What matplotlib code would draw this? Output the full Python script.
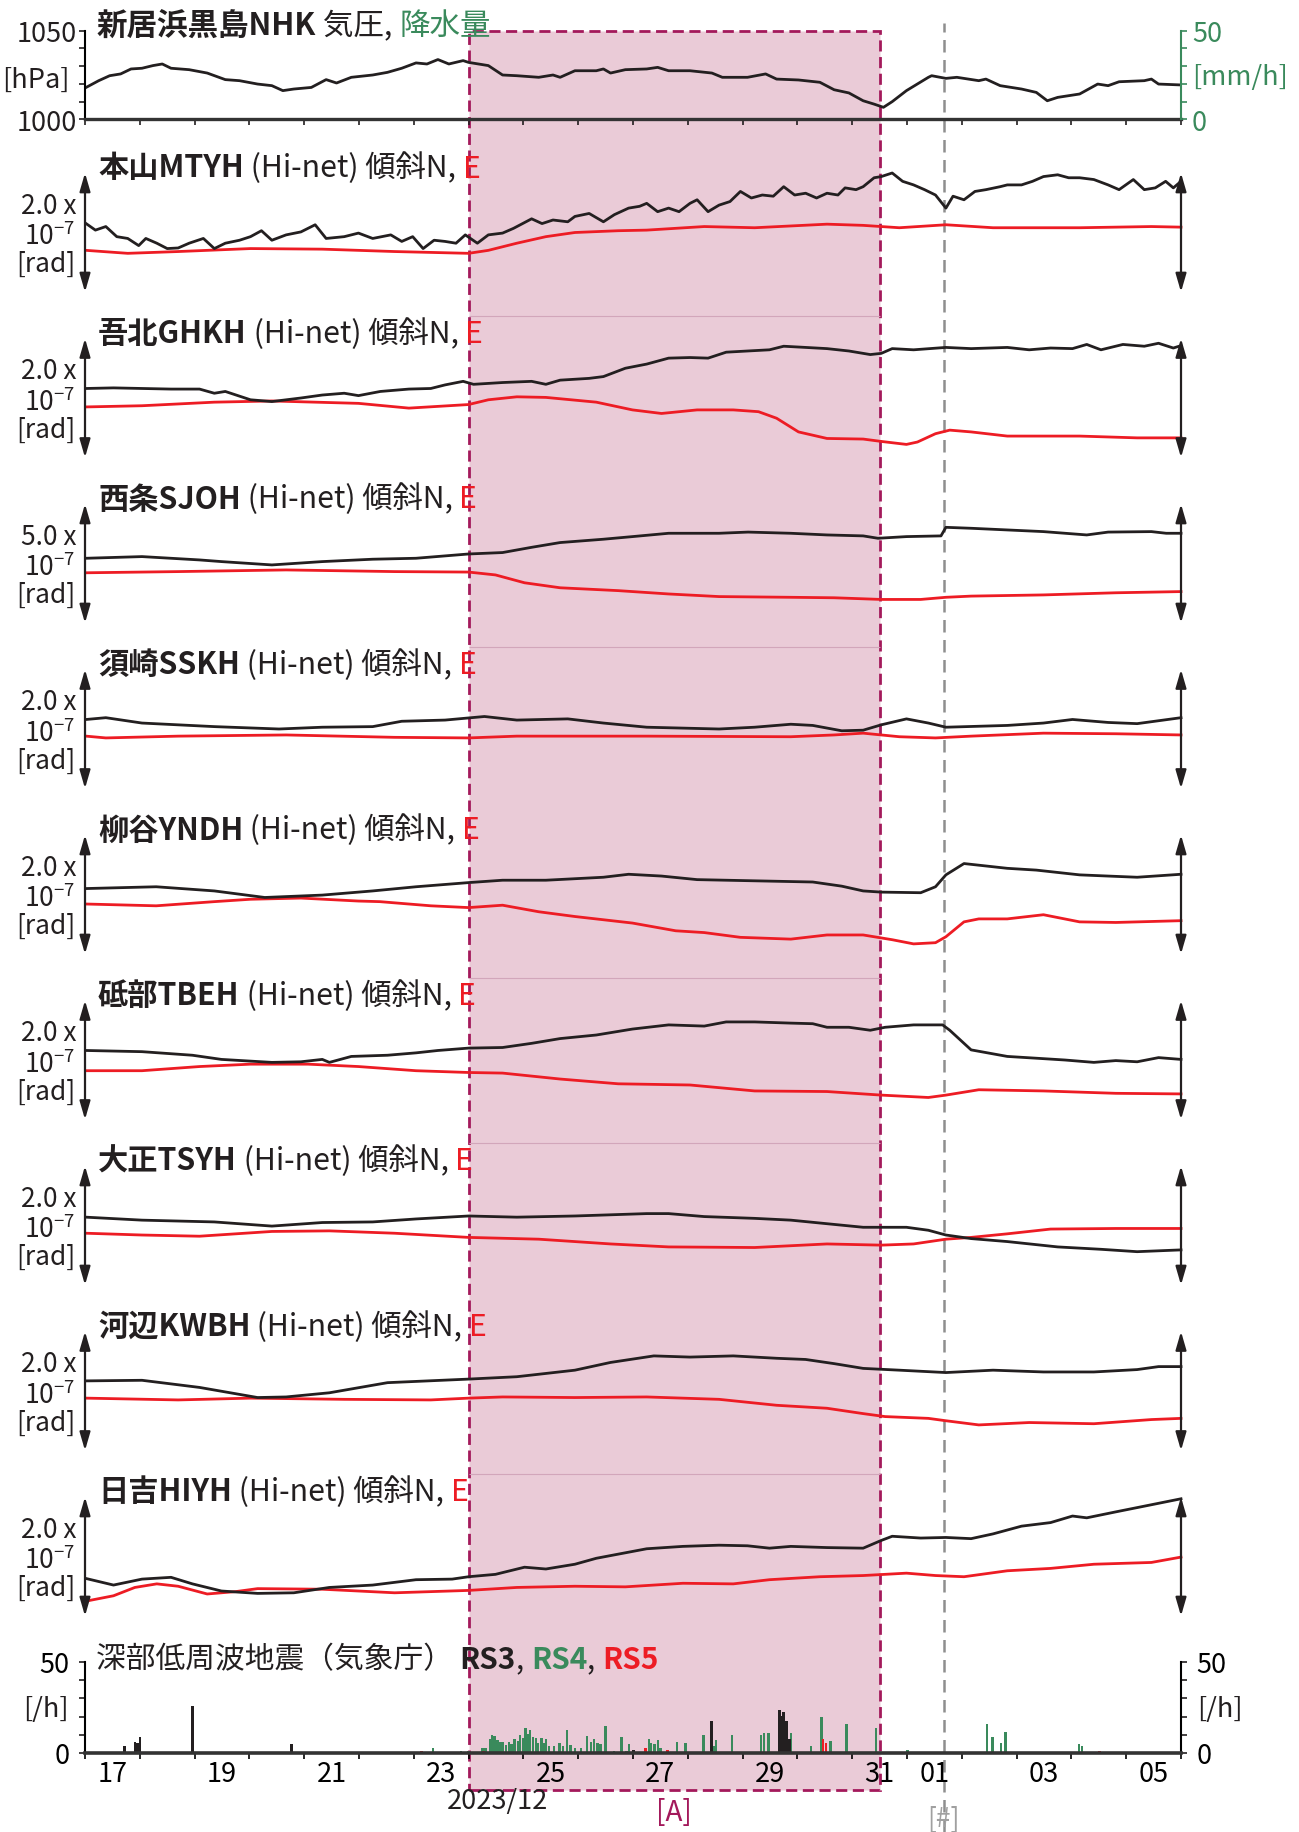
import numpy as np
import matplotlib
matplotlib.use('Agg')
import matplotlib.pyplot as plt

plt.rcParams['font.family'] = ['Noto Sans CJK JP', 'DejaVu Sans']
plt.rcParams['mathtext.fontset'] = 'custom'
plt.rcParams['mathtext.rm'] = 'Noto Sans CJK JP'
plt.rcParams['mathtext.it'] = 'Noto Sans CJK JP'
plt.rcParams['mathtext.bf'] = 'Noto Sans CJK JP:bold'

# time in days since 2023-12-17 00:00 (JST)
day_ticks = list(range(0, 21))
label_pos = [0.5, 2.5, 4.5, 6.5, 8.5, 10.5, 12.5, 14.5, 15.5, 17.5, 19.5]
label_txt = ['17', '19', '21', '23', '25', '27', '29', '31', '01', '03', '05']
span_a = (7.0, 14.5)      # [A]
quake_t = 15.67           # [#] 2024/01/01 16:10

# 新居浜黒島 pressure [hPa] / rain [mm/h]
press_t = [0.02, 0.25, 0.45, 0.65, 0.84, 1.04, 1.24, 1.41, 1.57, 1.90,
           2.23, 2.56, 2.82, 3.15, 3.41, 3.61, 3.81, 4.13, 4.40, 4.59,
           4.86, 5.25, 5.52, 5.78, 6.04, 6.24, 6.44, 6.64, 6.90, 7.00,
           7.36, 7.62, 7.88, 8.28, 8.54, 8.67, 8.94, 9.33, 9.46, 9.59,
           9.86, 10.25, 10.45, 10.65, 11.04, 11.44, 11.63, 12.09, 12.42, 12.62,
           13.02, 13.41, 13.67, 13.94, 14.20, 14.40, 14.57, 14.73, 14.99, 15.39,
           15.45, 15.71, 15.91, 16.31, 16.44, 16.70, 17.09, 17.36, 17.56, 17.75,
           18.15, 18.48, 18.67, 18.87, 19.33, 19.46, 19.59, 20.0]
press_hpa = [1018.0, 1021.8, 1024.6, 1025.6, 1028.4, 1028.8, 1030.3, 1031.2, 1028.8, 1028.0,
             1026.1, 1022.4, 1021.8, 1019.9, 1019.0, 1016.2, 1017.1, 1018.0, 1022.4, 1020.5,
             1023.7, 1025.0, 1026.5, 1028.8, 1031.8, 1031.2, 1033.7, 1031.2, 1033.1, 1032.1,
             1030.3, 1025.0, 1024.6, 1023.7, 1025.0, 1023.7, 1027.4, 1027.4, 1028.4, 1026.1,
             1028.0, 1028.4, 1029.3, 1027.4, 1027.4, 1026.1, 1023.7, 1023.7, 1025.6, 1022.7,
             1022.2, 1020.9, 1016.7, 1014.9, 1010.5, 1008.6, 1006.8, 1010.0, 1016.2, 1023.7,
             1024.6, 1023.1, 1023.7, 1021.8, 1022.7, 1019.0, 1017.1, 1015.2, 1010.5, 1012.4,
             1014.3, 1019.9, 1019.0, 1021.2, 1021.8, 1022.7, 1019.9, 1019.4]
rain_t = [2.69, 7.95, 17.69]
rain_mm = [0.5, 0.5, 0.5]

# Hi-net tilt, units of 1e-7 rad (N = black, E = red)
mtyh_n_t = [0.02, 0.19, 0.38, 0.58, 0.78, 0.98, 1.11, 1.31, 1.50, 1.70,
            1.90, 2.16, 2.36, 2.56, 2.82, 3.02, 3.22, 3.41, 3.67, 3.94,
            4.20, 4.40, 4.73, 4.99, 5.25, 5.58, 5.78, 5.98, 6.17, 6.37,
            6.57, 6.77, 6.94, 7.16, 7.36, 7.62, 7.82, 8.15, 8.34, 8.54,
            8.81, 8.94, 9.20, 9.46, 9.66, 9.92, 10.12, 10.25, 10.45, 10.65,
            10.84, 11.04, 11.17, 11.37, 11.57, 11.77, 11.96, 12.16, 12.36, 12.56,
            12.75, 12.95, 13.15, 13.35, 13.54, 13.74, 13.87, 14.07, 14.20, 14.40,
            14.53, 14.73, 14.92, 15.12, 15.32, 15.52, 15.71, 15.84, 16.04, 16.24,
            16.44, 16.70, 16.83, 17.09, 17.29, 17.49, 17.75, 17.95, 18.15, 18.41,
            18.67, 18.87, 19.13, 19.33, 19.53, 19.72, 19.86, 20.0]
mtyh_n = [1.15, 1.04, 1.10, 0.93, 0.90, 0.78, 0.90, 0.82, 0.73, 0.74,
          0.82, 0.90, 0.73, 0.82, 0.87, 0.93, 1.03, 0.87, 0.96, 1.01,
          1.13, 0.90, 0.93, 0.99, 0.90, 0.96, 0.85, 0.93, 0.73, 0.87,
          0.85, 0.82, 0.96, 0.82, 0.96, 0.99, 1.07, 1.23, 1.15, 1.21,
          1.18, 1.27, 1.32, 1.18, 1.30, 1.41, 1.44, 1.49, 1.35, 1.41,
          1.35, 1.49, 1.55, 1.35, 1.46, 1.52, 1.69, 1.58, 1.63, 1.61,
          1.77, 1.63, 1.66, 1.58, 1.66, 1.63, 1.75, 1.72, 1.77, 1.92,
          1.94, 2.00, 1.86, 1.80, 1.72, 1.63, 1.41, 1.61, 1.55, 1.69,
          1.72, 1.77, 1.80, 1.80, 1.86, 1.94, 1.97, 1.92, 1.92, 1.89,
          1.80, 1.72, 1.89, 1.72, 1.75, 1.86, 1.75, 1.86]
mtyh_e_t = [0.02, 0.78, 1.70, 3.02, 4.33, 5.65, 7.00, 7.36, 7.88, 8.41, 8.94, 9.73,
            10.25, 11.30, 12.22, 13.54, 14.20, 14.86, 15.71, 16.57, 18.15, 19.46, 20.0]
mtyh_e = [0.70, 0.65, 0.68, 0.73, 0.72, 0.68, 0.65, 0.70, 0.82, 0.93, 1.00, 1.03,
          1.04, 1.10, 1.08, 1.14, 1.12, 1.08, 1.13, 1.08, 1.08, 1.10, 1.09]

ghkh_n_t = [0.02, 0.52, 1.04, 1.57, 2.09, 2.36, 2.56, 3.02, 3.41, 3.94,
            4.33, 4.73, 4.99, 5.39, 5.91, 6.31, 6.57, 6.90, 7.09, 7.62,
            8.15, 8.41, 8.67, 9.20, 9.46, 9.86, 10.25, 10.65, 11.04, 11.37,
            11.70, 12.09, 12.49, 12.75, 13.15, 13.54, 13.94, 14.33, 14.53, 14.73,
            15.12, 15.71, 16.17, 16.83, 17.23, 17.62, 18.02, 18.28, 18.54, 18.94,
            19.33, 19.59, 19.86, 20.0]
ghkh_n = [1.16, 1.17, 1.16, 1.15, 1.15, 1.08, 1.11, 0.97, 0.94, 1.00,
          1.05, 1.08, 1.04, 1.11, 1.15, 1.16, 1.22, 1.28, 1.23, 1.26,
          1.28, 1.23, 1.30, 1.33, 1.36, 1.50, 1.57, 1.67, 1.68, 1.67,
          1.77, 1.79, 1.81, 1.87, 1.85, 1.83, 1.79, 1.73, 1.75, 1.83,
          1.81, 1.85, 1.83, 1.85, 1.81, 1.84, 1.83, 1.90, 1.81, 1.90,
          1.87, 1.92, 1.84, 1.88]
ghkh_e_t = [0.02, 1.04, 2.36, 3.41, 4.99, 5.91, 7.00, 7.36, 7.88, 8.41,
            9.33, 9.99, 10.52, 11.17, 11.83, 12.29, 12.62, 13.02, 13.54, 14.20,
            14.53, 14.99, 15.19, 15.52, 15.78, 16.17, 16.83, 18.15, 19.20, 20.0]
ghkh_e = [0.85, 0.87, 0.93, 0.95, 0.91, 0.83, 0.89, 0.97, 1.02, 1.01,
          0.93, 0.80, 0.74, 0.80, 0.80, 0.77, 0.66, 0.43, 0.32, 0.31,
          0.27, 0.22, 0.26, 0.40, 0.46, 0.43, 0.36, 0.36, 0.33, 0.33]

sjoh_n_t = [0.02, 1.04, 2.09, 2.49, 3.41, 4.33, 5.25, 6.04, 7.00, 7.62,
            8.15, 8.67, 9.46, 9.99, 10.65, 11.57, 12.10, 12.88, 13.54, 14.20,
            14.47, 14.99, 15.62, 15.71, 16.17, 16.83, 17.49, 18.28, 18.67, 19.46,
            19.73, 20.0]
sjoh_n = [2.72, 2.79, 2.65, 2.58, 2.44, 2.58, 2.68, 2.72, 2.90, 2.96,
          3.18, 3.38, 3.52, 3.63, 3.77, 3.77, 3.82, 3.77, 3.70, 3.66,
          3.56, 3.63, 3.66, 4.02, 3.98, 3.91, 3.84, 3.70, 3.82, 3.84,
          3.77, 3.77]
sjoh_e_t = [0.02, 1.70, 3.67, 5.65, 7.00, 7.49, 8.02, 8.67, 9.73, 10.65,
            11.57, 12.88, 13.67, 14.53, 15.25, 15.71, 16.17, 17.49, 18.81, 20.0]
sjoh_e = [2.11, 2.16, 2.23, 2.16, 2.14, 2.02, 1.69, 1.48, 1.36, 1.22,
          1.11, 1.08, 1.06, 0.99, 0.99, 1.08, 1.13, 1.18, 1.27, 1.32]

sskh_n_t = [0.02, 0.38, 1.04, 2.36, 3.54, 4.33, 5.25, 5.78, 6.57, 7.29,
            7.88, 8.81, 9.46, 10.25, 11.57, 12.22, 12.88, 13.28, 13.81, 14.20,
            14.53, 14.99, 15.39, 15.71, 16.83, 17.49, 18.02, 18.67, 19.20, 20.0]
sskh_n = [1.16, 1.19, 1.10, 1.04, 1.00, 1.03, 1.04, 1.13, 1.15, 1.21,
          1.15, 1.17, 1.10, 1.03, 1.00, 1.03, 1.08, 1.06, 0.97, 0.98,
          1.07, 1.17, 1.10, 1.03, 1.06, 1.10, 1.16, 1.11, 1.09, 1.19]
sskh_e_t = [0.02, 0.38, 1.70, 3.67, 5.65, 7.00, 7.88, 10.25, 12.88, 13.67,
            14.20, 14.86, 15.52, 16.17, 17.49, 18.81, 20.0]
sskh_e = [0.88, 0.85, 0.88, 0.90, 0.86, 0.85, 0.88, 0.88, 0.87, 0.90,
          0.93, 0.87, 0.85, 0.88, 0.93, 0.92, 0.90]

yndh_n_t = [0.02, 1.30, 2.36, 3.28, 4.33, 5.25, 6.04, 7.00, 7.62, 8.41,
            9.46, 9.92, 10.52, 11.17, 12.22, 13.28, 13.81, 14.20, 14.53, 15.25,
            15.52, 15.71, 16.04, 16.83, 17.36, 18.15, 18.67, 19.20, 20.0]
yndh_n = [1.10, 1.13, 1.06, 0.95, 0.99, 1.06, 1.13, 1.20, 1.24, 1.24,
          1.29, 1.34, 1.31, 1.25, 1.23, 1.21, 1.14, 1.06, 1.04, 1.03,
          1.13, 1.33, 1.52, 1.44, 1.41, 1.33, 1.31, 1.29, 1.34]
yndh_e_t = [0.02, 1.30, 2.36, 3.02, 3.94, 4.99, 5.38, 6.31, 7.00, 7.62,
            8.28, 8.94, 9.99, 10.78, 11.30, 11.96, 12.88, 13.54, 14.20, 14.73,
            15.12, 15.52, 15.71, 16.04, 16.31, 16.83, 17.49, 18.15, 18.81, 20.0]
yndh_e = [0.84, 0.81, 0.88, 0.92, 0.94, 0.89, 0.88, 0.81, 0.78, 0.82,
          0.71, 0.63, 0.52, 0.39, 0.36, 0.28, 0.25, 0.32, 0.32, 0.24,
          0.17, 0.19, 0.29, 0.54, 0.59, 0.59, 0.66, 0.54, 0.53, 0.56]

tbeh_n_t = [0.02, 1.04, 1.96, 2.49, 3.41, 3.94, 4.33, 4.46, 4.86, 5.52,
            6.04, 6.44, 7.00, 7.62, 8.15, 8.67, 9.33, 9.99, 10.65, 11.30,
            11.70, 12.22, 12.88, 13.28, 13.54, 13.94, 14.33, 14.60, 15.12, 15.65,
            15.78, 16.17, 16.83, 17.36, 17.88, 18.41, 18.81, 19.20, 19.59, 20.0]
tbeh_n = [1.16, 1.14, 1.08, 1.01, 0.96, 0.97, 1.01, 0.96, 1.06, 1.08,
          1.12, 1.16, 1.20, 1.21, 1.28, 1.36, 1.42, 1.52, 1.59, 1.57,
          1.64, 1.64, 1.62, 1.61, 1.55, 1.55, 1.50, 1.55, 1.59, 1.59,
          1.50, 1.17, 1.06, 1.03, 1.00, 0.96, 0.99, 0.97, 1.04, 1.01]
tbeh_e_t = [0.02, 1.04, 2.09, 3.02, 4.07, 4.99, 6.04, 7.00, 7.62, 8.67,
            9.73, 11.04, 12.22, 13.54, 14.53, 15.39, 15.71, 16.31, 17.49, 18.81, 20.0]
tbeh_e = [0.82, 0.82, 0.89, 0.93, 0.93, 0.89, 0.82, 0.79, 0.78, 0.68,
          0.60, 0.58, 0.48, 0.47, 0.41, 0.37, 0.41, 0.50, 0.48, 0.44, 0.43]

tsyh_n_t = [0.02, 1.04, 2.36, 3.41, 4.33, 5.25, 6.04, 7.00, 7.88, 8.94,
            10.25, 10.65, 11.30, 12.22, 12.88, 13.54, 14.20, 14.99, 15.39, 15.71,
            16.17, 16.83, 17.75, 18.54, 19.20, 20.0]
tsyh_n = [1.14, 1.09, 1.06, 0.99, 1.05, 1.06, 1.11, 1.16, 1.14, 1.16,
          1.20, 1.20, 1.15, 1.12, 1.09, 1.03, 0.97, 0.97, 0.92, 0.84,
          0.78, 0.73, 0.64, 0.60, 0.56, 0.59]
tsyh_e_t = [0.02, 1.04, 2.09, 3.41, 4.46, 5.65, 7.00, 8.28, 9.59, 10.65,
            12.22, 13.54, 14.53, 15.12, 15.71, 16.17, 16.83, 17.62, 18.81, 20.0]
tsyh_e = [0.87, 0.84, 0.82, 0.90, 0.91, 0.87, 0.80, 0.77, 0.69, 0.64,
          0.63, 0.69, 0.67, 0.69, 0.77, 0.80, 0.86, 0.94, 0.95, 0.95]

kwbh_n_t = [0.02, 1.04, 2.09, 3.15, 3.67, 4.46, 5.52, 7.00, 7.88, 8.94,
            9.59, 10.38, 11.04, 11.83, 12.62, 13.15, 13.67, 14.20, 14.86, 15.71,
            16.57, 17.49, 18.41, 19.20, 19.59, 20.0]
kwbh_n = [1.17, 1.18, 1.06, 0.89, 0.90, 0.97, 1.14, 1.20, 1.24, 1.35,
          1.48, 1.59, 1.57, 1.59, 1.55, 1.53, 1.46, 1.38, 1.35, 1.31,
          1.35, 1.32, 1.32, 1.36, 1.41, 1.41]
kwbh_e_t = [0.02, 1.70, 3.02, 4.73, 6.31, 7.00, 7.62, 8.94, 10.25, 11.57,
            12.62, 13.54, 14.20, 14.60, 15.39, 15.71, 16.31, 17.23, 18.41, 19.46, 20.0]
kwbh_e = [0.88, 0.85, 0.88, 0.86, 0.85, 0.88, 0.90, 0.89, 0.90, 0.86,
          0.76, 0.71, 0.62, 0.57, 0.54, 0.50, 0.43, 0.47, 0.45, 0.52, 0.54]

hiyh_n_t = [0.02, 0.52, 1.04, 1.57, 1.96, 2.49, 3.15, 3.81, 4.46, 5.25,
            6.04, 6.70, 7.00, 7.49, 8.02, 8.41, 8.94, 9.33, 10.25, 10.91,
            11.57, 12.09, 12.49, 12.88, 13.54, 14.20, 14.53, 14.73, 15.25, 15.71,
            16.17, 16.57, 17.09, 17.62, 18.02, 18.28, 18.81, 19.46, 20.0]
hiyh_n = [0.63, 0.52, 0.62, 0.65, 0.54, 0.42, 0.38, 0.39, 0.48, 0.52,
          0.61, 0.62, 0.66, 0.70, 0.82, 0.79, 0.87, 0.97, 1.13, 1.17,
          1.19, 1.18, 1.14, 1.17, 1.15, 1.14, 1.27, 1.34, 1.31, 1.32,
          1.30, 1.38, 1.51, 1.57, 1.68, 1.65, 1.75, 1.87, 1.97]
hiyh_e_t = [0.02, 0.52, 0.91, 1.31, 1.70, 2.23, 2.75, 3.15, 4.33, 5.65,
            7.00, 7.88, 8.94, 9.86, 10.91, 11.83, 12.49, 13.41, 14.20, 14.99,
            15.52, 16.04, 16.83, 17.62, 18.41, 19.46, 20.0]
hiyh_e = [0.25, 0.34, 0.48, 0.54, 0.50, 0.37, 0.41, 0.46, 0.45, 0.39,
          0.43, 0.48, 0.50, 0.49, 0.55, 0.54, 0.61, 0.66, 0.68, 0.72,
          0.68, 0.66, 0.76, 0.80, 0.87, 0.90, 0.99]

stations = [
    ('本山MTYH', 2.0, mtyh_n_t, mtyh_n, mtyh_e_t, mtyh_e),
    ('吾北GHKH', 2.0, ghkh_n_t, ghkh_n, ghkh_e_t, ghkh_e),
    ('西条SJOH', 5.0, sjoh_n_t, sjoh_n, sjoh_e_t, sjoh_e),
    ('須崎SSKH', 2.0, sskh_n_t, sskh_n, sskh_e_t, sskh_e),
    ('柳谷YNDH', 2.0, yndh_n_t, yndh_n, yndh_e_t, yndh_e),
    ('砥部TBEH', 2.0, tbeh_n_t, tbeh_n, tbeh_e_t, tbeh_e),
    ('大正TSYH', 2.0, tsyh_n_t, tsyh_n, tsyh_e_t, tsyh_e),
    ('河辺KWBH', 2.0, kwbh_n_t, kwbh_n, kwbh_e_t, kwbh_e),
    ('日吉HIYH', 2.0, hiyh_n_t, hiyh_n, hiyh_e_t, hiyh_e),
]

# deep low-frequency earthquakes per hour (JMA)
rs3_t = [0.72, 0.91, 0.96, 1.00, 1.96, 3.77, 10.01, 11.43, 12.67, 12.71, 12.75, 12.80, 12.86]
rs3_n = [3.7, 6.3, 5.5, 8.6, 25.7, 4.8, 1.7, 17.8, 23.9, 20.2, 22.4, 17.8, 7.7]
rs4_t = [6.35, 6.86, 7.00, 7.25, 7.31, 7.39, 7.43, 7.47, 7.53, 7.58,
         7.63, 7.68, 7.74, 7.78, 7.84, 7.90, 7.94, 7.99, 8.04, 8.08,
         8.12, 8.18, 8.23, 8.27, 8.33, 8.37, 8.41, 8.47, 8.56, 8.66,
         8.72, 8.80, 8.86, 8.94, 9.05, 9.16, 9.23, 9.29, 9.35, 9.41,
         9.50, 9.65, 9.79, 9.88, 9.93, 10.08, 10.29, 10.33, 10.39, 10.46,
         10.50, 10.80, 10.96, 11.29, 11.47, 11.51, 11.81, 12.00, 12.08, 12.34,
         12.39, 12.47, 12.88, 13.25, 13.44, 13.60, 13.90, 14.43, 15.01, 16.46,
         16.56, 16.72, 16.80, 18.14, 18.19]
rs4_n = [2.8, 1.0, 1.0, 2.6, 3.0, 7.7, 9.9, 9.2, 7.4, 6.3,
         6.3, 4.4, 6.3, 5.0, 7.7, 6.8, 9.9, 8.1, 13.6, 10.5,
         12.9, 8.6, 8.1, 5.5, 8.1, 5.5, 7.7, 4.0, 3.7, 5.5,
         3.7, 12.7, 4.4, 2.6, 2.6, 9.6, 5.9, 7.7, 5.5, 5.0,
         14.7, 1.3, 8.6, 1.0, 5.0, 0.7, 7.7, 5.5, 5.0, 7.4,
         2.6, 6.3, 5.5, 9.9, 4.0, 7.4, 9.9, 0.7, 0.7, 9.9,
         11.0, 11.0, 11.0, 3.7, 19.7, 6.4, 16.0, 13.6, 1.7, 16.0,
         9.0, 5.5, 11.4, 5.0, 3.7]
rs5_t = [6.14, 7.27, 8.75, 10.23, 10.39, 10.63, 11.43, 13.47, 13.52, 14.26, 18.51]
rs5_n = [1.0, 1.0, 0.7, 2.6, 0.7, 1.7, 0.7, 7.7, 5.5, 0.7, 1.3]

BLACK = '#231f20'
RED = '#ed1c24'
GREEN = '#3a8a5c'
MAROON = '#a3195b'
PINK = '#eacbd7'
GREY = '#8e8e8e'
JP = ['Noto Sans CJK JP', 'DejaVu Sans']

W, H = 1299, 1833
L, R = 85, 1181
fig = plt.figure(figsize=(W / 100, H / 100), dpi=100)


def box(top, bottom):
    return [L / W, 1 - bottom / H, (R - L) / W, (bottom - top) / H]


# background column with period [A] and the quake line
bg = fig.add_axes(box(0, H))
bg.set_xlim(0, 20)
bg.set_ylim(H, 0)
bg.axis('off')
bg.set_zorder(0)
bg.axvspan(span_a[0], span_a[1], ymin=(H - 1791) / H, ymax=(H - 31.6) / H,
           fc=PINK, ec=MAROON, ls=(0, (4, 2)), lw=2)
bg.hlines([317, 648, 979, 1144, 1475], span_a[0], span_a[1], color='#d2a6ba', lw=0.8)
bg.axvline(quake_t, ymin=0, ymax=(H - 24) / H, color=GREY, ls=(0, (5, 3)), lw=1.8)


def chain(x, y, pieces, size):
    s, w, c = pieces[0]
    prev = fig.text(x / W, 1 - y / H, s, fontsize=size, fontweight=w, color=c,
                    va='baseline', zorder=5)
    for s, w, c in pieces[1:]:
        prev = bg.annotate(s, xy=(1, 0), xycoords=prev, va='bottom', ha='left',
                           fontsize=size, fontweight=w, color=c, annotation_clip=False)


# pressure / rain
ax0 = fig.add_axes(box(31.6, 120.4))
ax0.set_zorder(2)
ax0.patch.set_alpha(0)
ax0.plot(press_t, press_hpa, color=BLACK, lw=2.0)
ax0.set_xlim(0, 20)
ax0.set_ylim(1000, 1050)
ax0.set_yticks([1000, 1050])
ax0.set_yticks([1010, 1020, 1030, 1040], minor=True)
ax0.set_xticks(day_ticks)
ax0.set_xticklabels([])
for s in ['top', 'right']:
    ax0.spines[s].set_visible(False)
ax0.spines['left'].set_linewidth(1.5)
ax0.spines['bottom'].set_linewidth(2.4)
ax0.spines['bottom'].set_color('#333333')
ax0.tick_params(axis='both', which='both', direction='out', length=4, width=1.2,
                labelsize=19.5, pad=2, color=BLACK, labelcolor=BLACK)
axr = ax0.twinx()
axr.patch.set_alpha(0)
axr.bar(rain_t, rain_mm, width=0.04, color=GREEN)
axr.set_ylim(0, 50)
axr.set_yticks([0, 50])
axr.set_yticks([10, 20, 30, 40], minor=True)
for s in ['top', 'left', 'bottom']:
    axr.spines[s].set_visible(False)
axr.spines['right'].set_color(GREEN)
axr.spines['right'].set_linewidth(1.5)
axr.tick_params(axis='y', which='both', direction='out', length=4, width=1.2,
                labelsize=19.5, pad=4, color=GREEN, labelcolor=GREEN)
fig.text(36 / W, 1 - 80 / H, '[hPa]', ha='center', va='center', fontsize=19.5, color=BLACK)
fig.text(1240 / W, 1 - 78 / H, '[mm/h]', ha='center', va='center', fontsize=19.5, color=GREEN)
chain(97, 35, [('新居浜黒島NHK', 'bold', BLACK), (' 気圧, ', 'normal', BLACK),
               ('降水量', 'normal', GREEN)], 22)

# tilt panels
arrow = dict(arrowstyle='<|-|>,head_length=0.55,head_width=0.16', color=BLACK,
             lw=1.6, shrinkA=0, shrinkB=0, mutation_scale=20)
for i, (name, scale, nt, nv, et, ev) in enumerate(stations):
    top = 174 + 165.5 * i
    ax = fig.add_axes(box(top, top + 119))
    ax.set_zorder(2)
    ax.patch.set_alpha(0)
    ax.set_xlim(0, 20)
    ax.set_ylim(0, scale)
    ax.axis('off')
    ax.plot(et, ev, color=RED, lw=2.0, clip_on=False)
    ax.plot(nt, nv, color=BLACK, lw=2.0, clip_on=False)
    for xa in (0, 20):
        ax.annotate('', xy=(xa, scale), xytext=(xa, 0), arrowprops=arrow,
                    annotation_clip=False)
    ax.text(-0.008, 0.73, f'{scale:.1f} x', transform=ax.transAxes, ha='right',
            va='center', fontsize=19, color=BLACK)
    ax.text(-0.009, 0.47, r'10$^{\mathrm{-7}}$', transform=ax.transAxes, ha='right',
            va='center', fontsize=19, color=BLACK)
    ax.text(-0.009, 0.24, '[rad]', transform=ax.transAxes, ha='right',
            va='center', fontsize=19, color=BLACK)
    chain(98, 177.5 + 165.5 * i, [(name, 'bold', BLACK), (' (Hi-net) 傾斜N, ', 'normal', BLACK),
                                   ('E', 'normal', RED)], 21.8)

# low-frequency earthquakes
axb = fig.add_axes(box(1663, 1754))
axb.set_zorder(2)
axb.patch.set_alpha(0)
axb.bar(rs4_t, rs4_n, width=0.045, color=GREEN, lw=0)
axb.bar(rs3_t, rs3_n, width=0.045, color=BLACK, lw=0)
axb.bar(rs5_t, rs5_n, width=0.045, color=RED, lw=0)
axb.set_xlim(0, 20)
axb.set_ylim(0, 50)
axb.set_yticks([0, 50])
axb.set_yticks([10, 20, 30, 40], minor=True)
axb.set_xticks(label_pos)
axb.set_xticklabels(label_txt)
axb.set_xticks(day_ticks, minor=True)
axb.spines['top'].set_visible(False)
axb.spines['left'].set_linewidth(1.5)
axb.spines['right'].set_linewidth(1.5)
axb.spines['bottom'].set_linewidth(2.6)
axb.spines['bottom'].set_color('#333333')
axb.tick_params(axis='y', which='both', direction='out', length=4, width=1.2,
                labelsize=19.5, pad=7, right=True, labelright=True, color=BLACK)
axb.tick_params(axis='x', which='major', length=0, labelsize=19.5, pad=5)
axb.tick_params(axis='x', which='minor', direction='out', length=4, width=1.2)
fig.text(46 / W, 1 - 1710 / H, '[/h]', ha='center', va='center', fontsize=19.5, color=BLACK)
fig.text(1220 / W, 1 - 1710 / H, '[/h]', ha='center', va='center', fontsize=19.5, color=BLACK)
chain(96, 1668, [('深部低周波地震（気象庁） ', 'normal', BLACK), ('RS3', 'bold', BLACK),
                 (', ', 'normal', BLACK), ('RS4', 'bold', GREEN), (', ', 'normal', BLACK),
                 ('RS5', 'bold', RED)], 21.4)

fig.text(497 / W, 1 - 1802 / H, '2023/12', ha='center', va='center', fontsize=19.5,
         color=BLACK, family=JP)
fig.text(674 / W, 1 - 1813 / H, '[A]', ha='center', va='center', fontsize=20,
         color=MAROON, family=JP)
fig.text(943 / W, 1 - 1819 / H, '[#]', ha='center', va='center', fontsize=19,
         color='#a0a0a0', family=JP)

fig.savefig('out.png', dpi=100)
